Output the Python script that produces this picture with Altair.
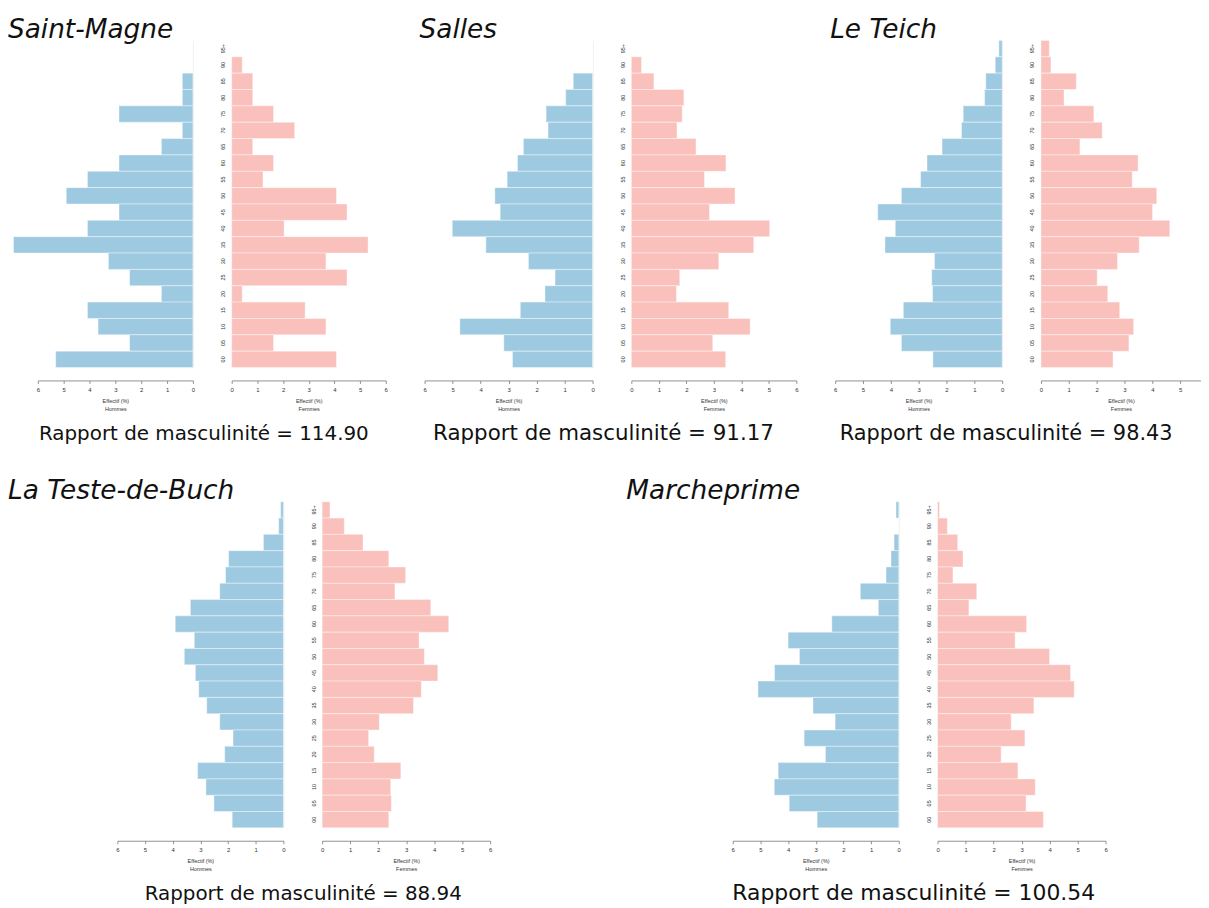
import altair as alt
import pandas as pd

# Age groups, top to bottom
ages = ["95+", "90", "85", "80", "75", "70", "65", "60", "55", "50",
        "45", "40", "35", "30", "25", "20", "15", "10", "05", "00"]

communes = ["Saint-Magne", "Salles", "Le Teich", "La Teste-de-Buch", "Marcheprime"]
ratios = ["114.90", "91.17", "98.43", "88.94", "100.54"]

saint_magne_men = [0, 0, 0.41, 0.41, 2.86, 0.41, 1.22, 2.86, 4.08, 4.90,
                   2.86, 4.08, 6.94, 3.27, 2.45, 1.22, 4.08, 3.67, 2.45, 5.31]
saint_magne_women = [0, 0.41, 0.82, 0.82, 1.63, 2.45, 0.82, 1.63, 1.22, 4.08,
                     4.49, 2.04, 5.31, 3.67, 4.49, 0.41, 2.86, 3.67, 1.63, 4.08]

salles_men = [0, 0, 0.69, 0.96, 1.66, 1.59, 2.47, 2.68, 3.05, 3.49,
              3.30, 5.01, 3.81, 2.29, 1.34, 1.70, 2.58, 4.74, 3.17, 2.86]
salles_women = [0, 0.37, 0.82, 1.91, 1.85, 1.66, 2.35, 3.44, 2.66, 3.77,
                2.84, 5.03, 4.45, 3.18, 1.76, 1.64, 3.54, 4.32, 2.96, 3.43]

le_teich_men = [0.12, 0.25, 0.59, 0.63, 1.40, 1.46, 2.16, 2.70, 2.93, 3.62,
                4.47, 3.84, 4.21, 2.43, 2.53, 2.50, 3.55, 4.02, 3.62, 2.49]
le_teich_women = [0.30, 0.36, 1.27, 0.83, 1.90, 2.20, 1.40, 3.49, 3.28, 4.16,
                  4.01, 4.63, 3.53, 2.75, 2.02, 2.40, 2.83, 3.33, 3.16, 2.59]

la_teste_men = [0.10, 0.17, 0.72, 1.98, 2.09, 2.30, 3.36, 3.91, 3.22, 3.58,
                3.18, 3.06, 2.77, 2.30, 1.82, 2.12, 3.10, 2.80, 2.51, 1.85]
la_teste_women = [0.28, 0.79, 1.46, 2.38, 2.98, 2.60, 3.88, 4.52, 3.46, 3.65,
                  4.13, 3.54, 3.26, 2.04, 1.66, 1.86, 2.81, 2.45, 2.47, 2.38]

marcheprime_men = [0.10, 0, 0.17, 0.28, 0.46, 1.39, 0.74, 2.42, 4.00, 3.59,
                   4.49, 5.09, 3.10, 2.30, 3.42, 2.65, 4.36, 4.50, 3.96, 2.95]
marcheprime_women = [0.07, 0.35, 0.72, 0.91, 0.55, 1.40, 1.12, 3.18, 2.77, 4.00,
                     4.75, 4.88, 3.44, 2.63, 3.12, 2.27, 2.87, 3.49, 3.16, 3.78]

BLUE = "#9ecae1"
PINK = "#f9c0bc"
TFONT = "DejaVu Sans"
SFONT = "Liberation Sans"


def x_axis(sex_label, vals):
    return alt.Axis(values=vals, format="d", offset=13, tickSize=3,
                    tickColor="#777", domainColor="#777", domainWidth=0.8, tickWidth=0.8,
                    labelFontSize=6, labelColor="#333", labelFont=SFONT, labelPadding=3,
                    labelFlush=False,
                    title=["Effectif (%)", sex_label], titleFontSize=5.5, titleFont=SFONT,
                    titleFontWeight="normal", titleColor="#333", titlePadding=6,
                    titleLineHeight=8, grid=False)


def men_chart(name, men, women, w, h, name_dx):
    df = pd.DataFrame({"age": ages, "Hommes": men, "Femmes": women})
    return alt.Chart(df).mark_bar(
        color=BLUE, stroke="white", strokeWidth=0.5, strokeOpacity=0.8
    ).encode(
        x=alt.X("Hommes:Q",
                scale=alt.Scale(domain=[0, 6], reverse=True, nice=False),
                axis=x_axis("Hommes", [0, 1, 2, 3, 4, 5, 6])),
        y=alt.Y("age:N", sort=ages,
                scale=alt.Scale(paddingInner=0, paddingOuter=0),
                axis=alt.Axis(orient="right", labels=False, ticks=False,
                              domainColor="#ececec", title=None)),
    ).properties(
        width=w, height=h,
        title=alt.TitleParams(text=name, orient="top", anchor="start", frame="group",
                              dx=name_dx, offset=-24, baseline="alphabetic",
                              fontSize=26.5, font=TFONT, fontStyle="italic",
                              fontWeight="normal", color="#111"),
    )


def women_chart(men, women, ratio, w, h, wmax, ratio_dx, rsize):
    df = pd.DataFrame({"age": ages, "Hommes": men, "Femmes": women})
    vals = [v for v in [0, 1, 2, 3, 4, 5, 6] if v <= wmax]
    return alt.Chart(df).mark_bar(
        color=PINK, stroke="white", strokeWidth=0.5, strokeOpacity=0.8
    ).encode(
        x=alt.X("Femmes:Q",
                scale=alt.Scale(domain=[0, wmax], nice=False),
                axis=x_axis("Femmes", vals)),
        y=alt.Y("age:N", sort=ages,
                scale=alt.Scale(paddingInner=0, paddingOuter=0),
                axis=alt.Axis(orient="left", labelAngle=270, labelAlign="center",
                              labelBaseline="bottom", labelPadding=6, labelFontSize=5.5,
                              labelFont=SFONT, labelColor="#333", ticks=False,
                              domain=False, title=None)),
    ).properties(
        width=w, height=h,
        title=alt.TitleParams(text="Rapport de masculinité = " + ratio, orient="bottom",
                              anchor="start", frame="group", align="center",
                              dx=ratio_dx, offset=28, baseline="alphabetic",
                              fontSize=rsize, font=TFONT, fontWeight="normal", color="#111"),
    )


def spacer(w):
    return alt.Chart(pd.DataFrame({"s": [0]})).mark_point(opacity=0).encode(
        x=alt.value(0), y=alt.value(0)
    ).properties(width=w, height=10)


H1, H2 = 329, 328
row1 = alt.hconcat(
    men_chart(communes[0], saint_magne_men, saint_magne_women, 156, H1, -30),
    women_chart(saint_magne_men, saint_magne_women, ratios[0], 155, H1, 6, -28, 20),
    men_chart(communes[1], salles_men, salles_women, 169, H1, -5),
    women_chart(salles_men, salles_women, ratios[1], 166, H1, 6, -28, 21.5),
    men_chart(communes[2], le_teich_men, le_teich_women, 168, H1, -5),
    women_chart(le_teich_men, le_teich_women, ratios[2], 161, H1, 5.75, -35, 21),
    spacing=39, bounds="flush",
)
row2 = alt.hconcat(
    spacer(41),
    men_chart(communes[3], la_teste_men, la_teste_women, 167, H2, -110),
    women_chart(la_teste_men, la_teste_women, ratios[3], 169, H2, 6, -19, 20),
    spacer(166),
    men_chart(communes[4], marcheprime_men, marcheprime_women, 167, H2, -107),
    women_chart(marcheprime_men, marcheprime_women, ratios[4], 169, H2, 6, -24, 22),
    spacing=39, bounds="flush",
)

chart = alt.vconcat(row1, row2, spacing=34).properties(
    padding={"left": 0, "top": 6, "right": 0, "bottom": 0}
).configure_view(strokeWidth=0).configure_axis(grid=False)

chart.save("out.html", embed_options={"renderer": "svg", "actions": False})
